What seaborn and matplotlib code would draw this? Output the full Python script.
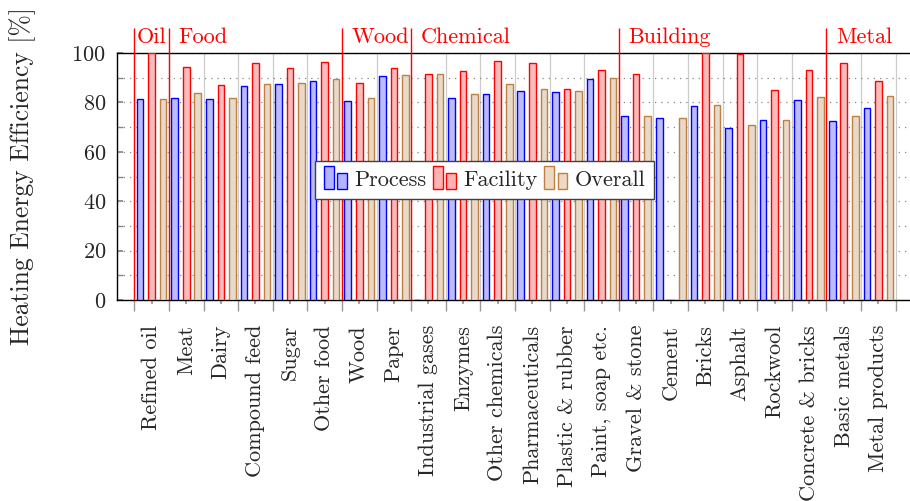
import matplotlib
matplotlib.use("Agg")
import numpy as np
import pandas as pd
import matplotlib.pyplot as plt
import seaborn as sns
from matplotlib.legend_handler import HandlerBase
from matplotlib.patches import Rectangle, Patch
from matplotlib.ticker import FixedLocator, MultipleLocator

categories = [
    "Refined oil", "Meat", "Dairy", "Compound feed", "Sugar", "Other food",
    "Wood", "Paper", "Industrial gases", "Enzymes", "Other chemicals",
    "Pharmaceuticals", "Plastic & rubber", "Paint, soap etc.", "Gravel & stone",
    "Cement", "Bricks", "Asphalt", "Rockwool", "Concrete & bricks",
    "Basic metals", "Metal products",
]
process = [81.4, 81.8, 81.4, 86.8, 87.6, 88.5, 80.5, 90.5, 0.0, 81.8, 83.6,
           84.6, 84.1, 89.5, 74.3, 73.6, 78.6, 69.6, 72.8, 80.9, 72.3, 77.6]
facility = [100.0, 94.5, 86.9, 95.9, 93.8, 96.4, 87.8, 93.8, 91.5, 92.8, 96.9,
            95.8, 85.4, 93.1, 91.5, 0.0, 100.0, 99.7, 85.0, 93.1, 96.1, 88.6]
overall = [81.4, 83.8, 81.8, 87.6, 87.8, 89.5, 81.8, 91.1, 91.5, 83.4, 87.3,
           85.4, 84.6, 89.7, 74.5, 73.6, 78.9, 70.9, 73.0, 82.2, 74.3, 82.6]
series = ["Process", "Facility", "Overall"]
groups = ["Oil", "Food", "Wood", "Chemical", "Building", "Metal"]
group_starts = [0, 1, 6, 8, 14, 20]

fills = ["#b3b3ff", "#ffb3b3", "#ecd9c6"]
edges = ["#0000ff", "#ff0000", "#bf8040"]

df = pd.DataFrame({"Sector": categories, "Process": process,
                   "Facility": facility, "Overall": overall})
long = df.melt(id_vars="Sector", var_name="Type", value_name="Efficiency")


class TwoBarHandler(HandlerBase):
    # pgfplots-style ybar legend image: a tall and a short bar
    def create_artists(self, legend, orig_handle, xdescent, ydescent,
                       width, height, fontsize, trans):
        fc = orig_handle.get_facecolor()
        ec = orig_handle.get_edgecolor()
        w = width * 0.43
        y0 = -ydescent - 0.2 * height
        r1 = Rectangle((-xdescent, y0), w, height * 1.45, facecolor=fc,
                       edgecolor=ec, lw=1, transform=trans)
        r2 = Rectangle((-xdescent + width - w, y0), w, height * 1.05,
                       facecolor=fc, edgecolor=ec, lw=1, transform=trans)
        return [r1, r2]


sns.set_theme(style="white")
plt.rcParams["font.family"] = ["cmr10", "DejaVu Serif"]
plt.rcParams["mathtext.fontset"] = "cm"
plt.rcParams["axes.formatter.use_mathtext"] = True

fig = plt.figure(figsize=(9.1, 5.01), dpi=100)
ax = fig.add_axes([0.1286, 0.4012, 0.8747, 0.493])

sns.barplot(data=long, x="Sector", y="Efficiency", hue="Type",
            hue_order=series, order=categories, palette=fills,
            width=1.0, gap=0.43, legend=False, ax=ax, zorder=3)
for cont, ec in zip(ax.containers, edges):
    for bar in cont:
        bar.set_edgecolor(ec)
        bar.set_linewidth(1.0)

ax.set_xlim(-1.0, len(categories))
ax.set_ylim(0, 100)

# axis ticks and grid
bounds = np.arange(len(categories) + 1) - 0.5
ax.xaxis.set_major_locator(FixedLocator(np.arange(len(categories))))
ax.xaxis.set_minor_locator(FixedLocator(bounds))
ax.set_xticklabels(categories, rotation=90, fontsize=16)
ax.tick_params(axis="x", which="major", direction="out", length=3,
               color="#999999", pad=15, bottom=True)
ax.tick_params(axis="x", which="minor", direction="out", length=8,
               color="#999999", bottom=True)
ax.yaxis.set_major_locator(MultipleLocator(20))
ax.yaxis.set_minor_locator(MultipleLocator(10))
ax.tick_params(axis="y", which="both", direction="in", length=4,
               color="#888888", labelsize=16, left=True, pad=8)
ax.grid(False)
ax.grid(True, axis="y", which="both", linestyle=(0, (1, 4)),
        color="#888888", lw=0.9)
ax.grid(True, axis="x", which="minor", color="#cccccc", lw=0.9)
ax.set_axisbelow(True)
for side in ["left", "bottom", "top"]:
    ax.spines[side].set_color("black")
    ax.spines[side].set_linewidth(1.0)
ax.spines["right"].set_visible(False)

ax.set_xlabel("")
ax.set_ylabel("Heating Energy Efficiency [%]", fontsize=18.5)
ax.yaxis.set_label_coords(-0.102, 0.5)

# sector group separators and labels
for i, (name, start) in enumerate(zip(groups, group_starts)):
    ax.vlines(start - 0.5, 0, 110, colors="red", lw=1.0, clip_on=False,
              zorder=4)
    end = group_starts[i + 1] if i + 1 < len(groups) else len(categories)
    if end - start == 1:
        ax.text(start, 106.5, name, color="red", fontsize=16,
                ha="center", va="center")
    else:
        ax.text(start - 0.5 + 0.28, 106.5, name, color="red", fontsize=16,
                ha="left", va="center")

handles = [Patch(facecolor=f, edgecolor=e) for f, e in zip(fills, edges)]
leg = ax.legend(handles, series, ncol=3, loc="center",
                bbox_to_anchor=(0.462, 0.486), fontsize=16,
                handler_map={Patch: TwoBarHandler()}, handlelength=1.04,
                handleheight=0.7, handletextpad=0.32, columnspacing=0.3,
                borderpad=0.4, borderaxespad=0, fancybox=False, framealpha=1,
                edgecolor="#404040")
leg.get_frame().set_linewidth(1.0)
leg.set_zorder(5)

fig.savefig("out.png", dpi=100)
